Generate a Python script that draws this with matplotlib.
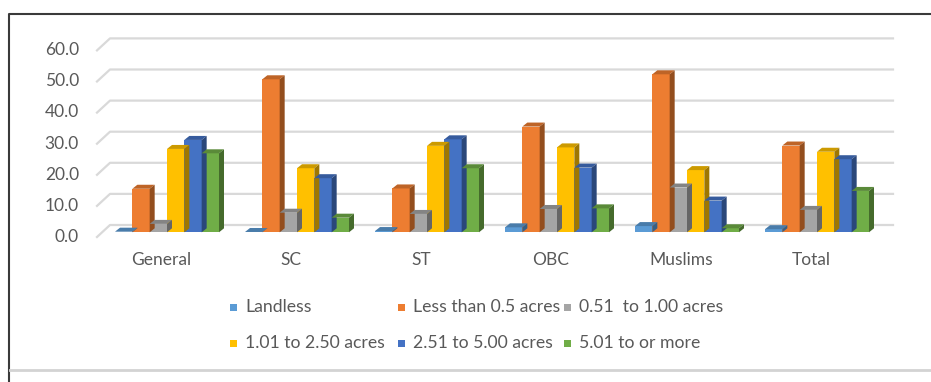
import numpy as np
import matplotlib
matplotlib.use("Agg")
import matplotlib.pyplot as plt
from matplotlib.patches import Polygon, Rectangle
from matplotlib.lines import Line2D
from matplotlib.colors import to_rgb

plt.rcParams['font.family'] = ['Lato', 'DejaVu Sans']

# Data (percent of households)
categories = ["General", "SC", "ST", "OBC", "Muslims", "Total"]
series_names = ["Landless", "Less than 0.5 acres", "0.51  to 1.00 acres",
                "1.01 to 2.50 acres", "2.51 to 5.00 acres", "5.01 to or more"]
landless = [0.2, 0.1, 0.4, 1.6, 2.0, 1.0]
less_05 = [14.0, 49.2, 14.1, 34.0, 50.8, 27.9]
a051_100 = [2.7, 6.3, 5.9, 7.5, 14.4, 7.2]
a101_250 = [26.8, 20.6, 27.8, 27.3, 20.0, 25.9]
a251_500 = [29.7, 17.4, 29.9, 20.8, 10.2, 23.5]
a501_more = [25.4, 4.7, 20.6, 7.7, 1.3, 13.3]
yticks = [0, 10, 20, 30, 40, 50, 60]

series = [landless, less_05, a051_100, a101_250, a251_500, a501_more]
colors = ['#5B9BD5', '#ED7D31', '#A5A5A5', '#FFC000', '#4472C4', '#70AD47']
text_col = '#595959'

W, H = 931, 382
fig = plt.figure(figsize=(W / 100, H / 100), dpi=100)

def fx(px):
    return px / W

def fy(py):
    return (H - py) / H

# axes = front plane of the bars
ax = fig.add_axes([fx(102), fy(232.3), 780 / W, 186.6 / H])
ax.set_xlim(-0.5, 5.5)
ax.set_ylim(0, 60)
ax.axis('off')

def shade(c, f):
    r, g, b = to_rgb(c)
    return (r * f, g * f, b * f)

# back wall gridlines with the left-side diagonal
for v in yticks:
    yd = ax.transData.transform((0, v))[1]
    fig.add_artist(Line2D([97, 110, 893], [yd - 4.7, yd + 7.3, yd + 7.3],
                          transform=None, color='#d9d9d9', lw=1.6, zorder=0))
    fig.text(79, yd - 4.5, f"{v:.1f}", transform=None, ha='right', va='center',
             fontsize=12.5, color=text_col)

# 3D-ish bars
bw = 0.8 / len(series)
dx, dy = 5, 4
x = np.arange(len(categories))
for j, (vals, c) in enumerate(zip(series, colors)):
    xs = x + (j - 2.5) * bw
    ax.bar(xs, vals, width=bw, color=c, zorder=2, clip_on=False)
    for xi, v in zip(xs, vals):
        (x0, y0), (x1, y1) = ax.transData.transform([(xi - bw / 2, 0), (xi + bw / 2, v)])
        top = Polygon([(x0, y1), (x1, y1), (x1 + dx, y1 + dy), (x0 + dx, y1 + dy)],
                      closed=True, transform=None, facecolor=shade(c, 0.8),
                      edgecolor='none', zorder=3)
        side = Polygon([(x1, y0), (x1 + dx, y0 + dy), (x1 + dx, y1 + dy), (x1, y1)],
                       closed=True, transform=None, facecolor=shade(c, 0.62),
                       edgecolor='none', zorder=3)
        fig.add_artist(top)
        fig.add_artist(side)

# category labels
for i, cat in enumerate(categories):
    xd, yd = ax.transData.transform((i, 0))
    fig.text(xd - 6, yd - 28, cat, transform=None, ha='center', va='center',
             fontsize=12.5, color=text_col)

# legend, three columns like the Excel one
col_x = [230, 398, 564]
row_y = [307, 343]
for k, (name, c) in enumerate(zip(series_names, colors)):
    cx = col_x[k % 3]
    ry = row_y[k // 3]
    fig.add_artist(Rectangle((fx(cx), fy(ry + 3.5)), 7 / W, 7 / H,
                             transform=fig.transFigure, facecolor=c, edgecolor='none'))
    fig.text(fx(cx + 15), fy(ry), name, ha='left', va='center',
             fontsize=12.7, color=text_col)

# frame of the original figure
fig.add_artist(Line2D([fx(8.5), fx(8.5), fx(W)], [fy(H), fy(13.5), fy(13.5)],
                      color='#3a3a3a', lw=1.5))
fig.add_artist(Line2D([fx(9.5), fx(W)], [fy(370), fy(370)], color='#d3d3d3', lw=2))

fig.savefig("out.png", dpi=100, facecolor='white')
